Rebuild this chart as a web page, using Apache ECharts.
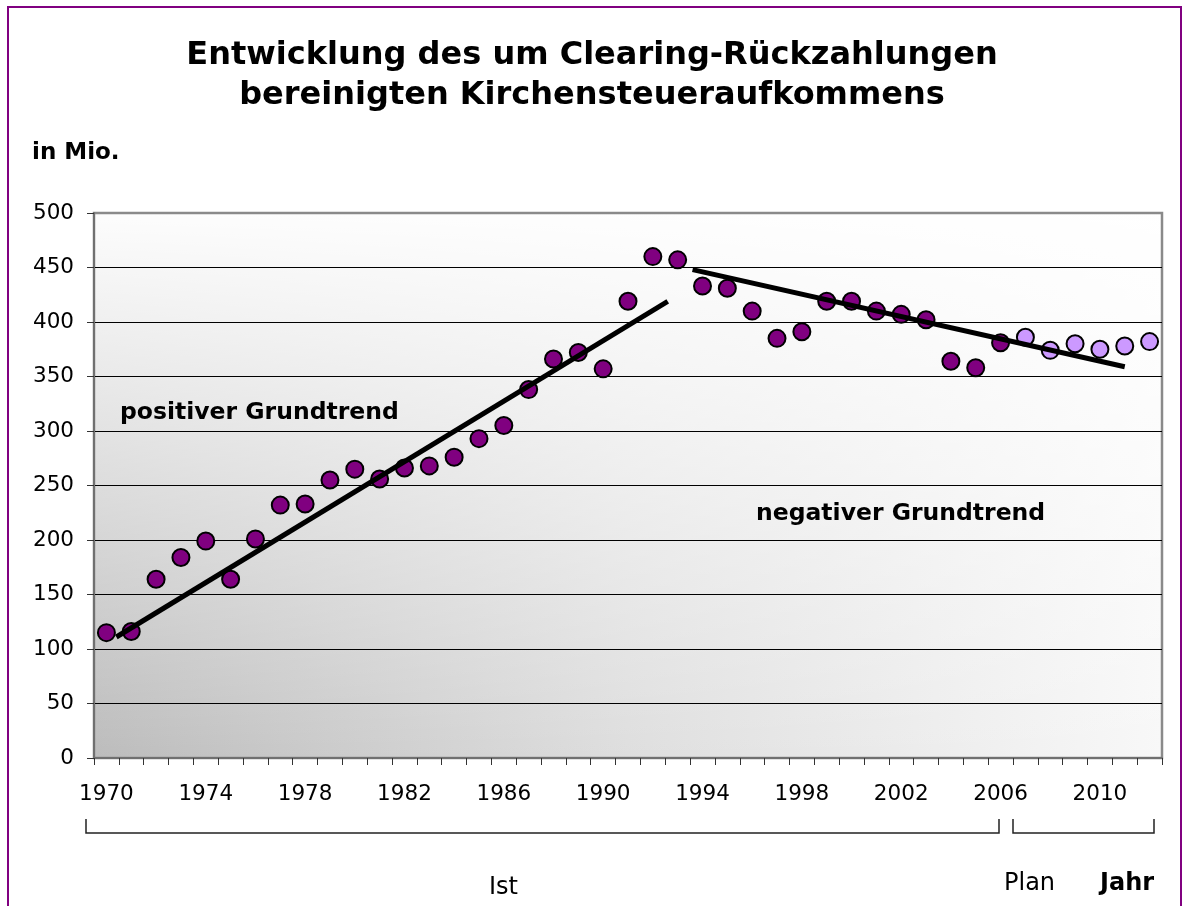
<!DOCTYPE html>
<html>
<head>
<meta charset="utf-8">
<title>Kirchensteueraufkommen</title>
<script src="https://cdn.jsdelivr.net/npm/echarts@6/dist/echarts.min.js"></script>
<style>
  html, body { margin: 0; padding: 0; background: #fff; }
  #chart { width: 1184px; height: 906px; }
</style>
</head>
<body>
<div id="chart"></div>
<script>
// Jahre (Kategorien der x-Achse)
const years = ['1970', '1971', '1972', '1973', '1974', '1975', '1976', '1977', '1978', '1979',
  '1980', '1981', '1982', '1983', '1984', '1985', '1986', '1987', '1988', '1989',
  '1990', '1991', '1992', '1993', '1994', '1995', '1996', '1997', '1998', '1999',
  '2000', '2001', '2002', '2003', '2004', '2005', '2006', '2007', '2008', '2009',
  '2010', '2011', '2012'];

// Ist-Werte 1970-2006 (Mio.)
const istYears = ['1970', '1971', '1972', '1973', '1974', '1975', '1976', '1977', '1978', '1979',
  '1980', '1981', '1982', '1983', '1984', '1985', '1986', '1987', '1988', '1989',
  '1990', '1991', '1992', '1993', '1994', '1995', '1996', '1997', '1998', '1999',
  '2000', '2001', '2002', '2003', '2004', '2005', '2006'];
const istValues = [115, 116, 164, 184, 199, 164, 201, 232, 233, 255,
  265, 256, 266, 268, 276, 293, 305, 338, 366, 372,
  357, 419, 460, 457, 433, 431, 410, 385, 391, 419,
  419, 410, 407, 402, 364, 358, 381];

// Plan-Werte 2007-2012
const planYears = ['2007', '2008', '2009', '2010', '2011', '2012'];
const planValues = [386, 374, 380, 375, 378, 382];

// Trendlinien [Jahr, Wert]
const trendPositive = [[1970.4, 111], [1992.6, 419]];
const trendNegative = [[1993.6, 448], [2011.0, 359]];

const yTicks = { min: 0, max: 500, step: 50 };

// Layout des Plotbereichs (Pixel)
const G = { left: 94, top: 213, width: 1068, height: 545 };
const FONT = '"DejaVu Sans", Verdana, sans-serif';

const chart = echarts.init(document.getElementById('chart'));

const option = {
  animation: false,
  textStyle: { fontFamily: FONT },
  title: {
    text: 'Entwicklung des um Clearing-Rückzahlungen\nbereinigten Kirchensteueraufkommens',
    left: 'center',
    top: 31,
    textStyle: { fontSize: 32, fontWeight: 'bold', color: '#000', lineHeight: 40, fontFamily: FONT }
  },
  grid: { left: G.left, top: G.top, width: G.width, height: G.height, containLabel: false },
  xAxis: [
    {
      type: 'category',
      data: years,
      boundaryGap: true,
      axisLine: { lineStyle: { color: '#707070', width: 2 } },
      axisTick: { show: true, interval: 0, length: 7, lineStyle: { color: '#333' } },
      axisLabel: { interval: 3, fontSize: 21.5, color: '#000', margin: 25, fontFamily: FONT },
      splitLine: { show: false }
    },
    {
      type: 'value',
      min: 1969.5,
      max: 2012.5,
      show: false
    }
  ],
  yAxis: {
    type: 'value',
    min: yTicks.min,
    max: yTicks.max,
    interval: yTicks.step,
    axisLine: { show: true, lineStyle: { color: '#707070', width: 2 } },
    axisTick: { show: true, length: 7, lineStyle: { color: '#333' } },
    axisLabel: { fontSize: 21.5, color: '#000', margin: 20, fontFamily: FONT },
    splitLine: { show: true, showMinLine: false, showMaxLine: false, lineStyle: { color: '#000', width: 1 } }
  },
  graphic: [
    // Rahmen
    {
      type: 'rect', z: -20, silent: true,
      shape: { x: 8, y: 7, width: 1173, height: 940 },
      style: { fill: '#fff', stroke: '#800080', lineWidth: 2 }
    },
    // Plot-Hintergrund (horizontaler Verlauf)
    {
      type: 'rect', z: -10, silent: true,
      shape: { x: G.left, y: G.top, width: G.width, height: G.height },
      style: {
        fill: new echarts.graphic.LinearGradient(0, 0, 1, 0, [
          { offset: 0, color: '#bcbcbc' },
          { offset: 0.5, color: '#dedede' },
          { offset: 1, color: '#f8f8f8' }
        ])
      }
    },
    // Aufhellung nach oben
    {
      type: 'rect', z: -9, silent: true,
      shape: { x: G.left, y: G.top, width: G.width, height: G.height },
      style: {
        fill: new echarts.graphic.LinearGradient(0, 1, 0, 0, [
          { offset: 0, color: 'rgba(255,255,255,0)' },
          { offset: 1, color: 'rgba(255,255,255,0.97)' }
        ]),
        stroke: '#8a8a8a',
        lineWidth: 2.5
      }
    },
    {
      type: 'text', left: 32, top: 142,
      style: { text: 'in Mio.', font: 'bold 23px ' + FONT, fill: '#000' }
    },
    {
      type: 'text', left: 120, top: 401, z: 5,
      style: { text: 'positiver Grundtrend', font: 'bold 23.5px ' + FONT, fill: '#000' }
    },
    {
      type: 'text', left: 756, top: 502, z: 5,
      style: { text: 'negativer Grundtrend', font: 'bold 23.5px ' + FONT, fill: '#000' }
    },
    // Klammern Ist / Plan
    {
      type: 'polyline', silent: true,
      shape: { points: [[86, 819], [86, 833], [999, 833], [999, 819]] },
      style: { stroke: '#222', lineWidth: 1.5, fill: null }
    },
    {
      type: 'polyline', silent: true,
      shape: { points: [[1013, 819], [1013, 833], [1154, 833], [1154, 819]] },
      style: { stroke: '#222', lineWidth: 1.5, fill: null }
    },
    {
      type: 'text', left: 489, top: 876,
      style: { text: 'Ist', font: '24px ' + FONT, fill: '#000' }
    },
    {
      type: 'text', left: 1004, top: 872,
      style: { text: 'Plan', font: '24px ' + FONT, fill: '#000' }
    },
    {
      type: 'text', left: 1100, top: 872,
      style: { text: 'Jahr', font: 'bold 24px ' + FONT, fill: '#000' }
    }
  ],
  series: [
    {
      name: 'Ist',
      type: 'scatter',
      data: istYears.map((y, i) => [y, istValues[i]]),
      symbol: 'circle',
      symbolSize: 17,
      itemStyle: { color: '#800080', borderColor: '#000', borderWidth: 2, opacity: 1 },
      z: 3
    },
    {
      name: 'Plan',
      type: 'scatter',
      data: planYears.map((y, i) => [y, planValues[i]]),
      symbol: 'circle',
      symbolSize: 17,
      itemStyle: { color: '#cc99ff', borderColor: '#000', borderWidth: 2, opacity: 1 },
      z: 3
    },
    {
      name: 'positiver Grundtrend',
      type: 'line',
      xAxisIndex: 1,
      data: trendPositive,
      symbol: 'none',
      lineStyle: { color: '#000', width: 5 },
      z: 4
    },
    {
      name: 'negativer Grundtrend',
      type: 'line',
      xAxisIndex: 1,
      data: trendNegative,
      symbol: 'none',
      lineStyle: { color: '#000', width: 5 },
      z: 4
    }
  ]
};

chart.setOption(option);
</script>
</body>
</html>
